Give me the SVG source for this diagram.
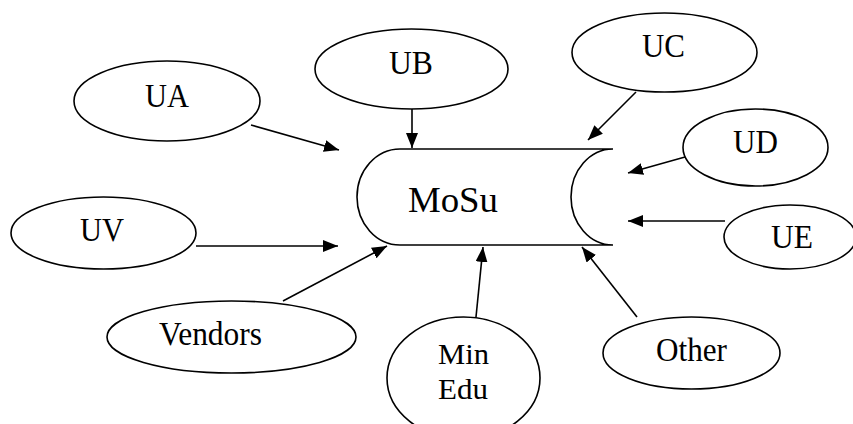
<svg xmlns="http://www.w3.org/2000/svg" width="853" height="424" viewBox="0 0 853 424">
  <style>
    .node { fill: #ffffff; stroke: #000000; stroke-width: 1.6; }
    .label { font-family: "Liberation Serif", "Times New Roman", serif; font-size: 34px; fill: #000000; text-anchor: middle; }
    .big { font-size: 35px; }
    .small { font-size: 30px; }
    .edge { stroke: #000000; stroke-width: 1.6; fill: none; marker-end: url(#arrow); }
  </style>
  <defs>
    <marker id="arrow" markerUnits="userSpaceOnUse" markerWidth="16" markerHeight="12" viewBox="0 0 16 12" refX="15" refY="6" orient="auto">
      <path d="M0,0 L15,6 L0,12 Z" fill="#000000"/>
    </marker>
  </defs>
  <rect width="853" height="424" fill="#ffffff"/>

  <!-- connectors -->
  <g id="edges">
    <line class="edge" x1="251" y1="125" x2="339" y2="150"/>
    <line class="edge" x1="412" y1="109" x2="412" y2="148"/>
    <line class="edge" x1="636" y1="92" x2="588" y2="140"/>
    <line class="edge" x1="685" y1="157" x2="628" y2="173"/>
    <line class="edge" x1="725" y1="221" x2="628" y2="221"/>
    <line class="edge" x1="196" y1="246" x2="338" y2="246"/>
    <line class="edge" x1="283" y1="301" x2="387" y2="246"/>
    <line class="edge" x1="476" y1="317" x2="483" y2="247"/>
    <line class="edge" x1="637" y1="317" x2="582" y2="247"/>
  </g>

  <!-- central store -->
  <g id="mosu">
    <path class="node" d="M400,149 H613 A42,48 0 0 0 613,245 H400 A43,48 0 0 1 400,149 Z"/>
    <text class="label big" x="453" y="212" textLength="90" lengthAdjust="spacingAndGlyphs">MoSu</text>
  </g>

  <g id="ua">
    <ellipse class="node" cx="167" cy="101" rx="93" ry="40"/>
    <text class="label" x="167" y="107" textLength="44" lengthAdjust="spacingAndGlyphs">UA</text>
  </g>
  <g id="ub">
    <ellipse class="node" cx="411.5" cy="69" rx="96.5" ry="40"/>
    <text class="label" x="411" y="74" textLength="44" lengthAdjust="spacingAndGlyphs">UB</text>
  </g>
  <g id="uc">
    <ellipse class="node" cx="664.5" cy="52.5" rx="92.5" ry="39.5"/>
    <text class="label" x="663.5" y="57" textLength="43" lengthAdjust="spacingAndGlyphs">UC</text>
  </g>
  <g id="ud">
    <ellipse class="node" cx="755.5" cy="147.5" rx="72.5" ry="38.5"/>
    <text class="label" x="755.5" y="153" textLength="45" lengthAdjust="spacingAndGlyphs">UD</text>
  </g>
  <g id="ue">
    <ellipse class="node" cx="790" cy="237" rx="66" ry="32"/>
    <text class="label" x="792" y="248" textLength="42" lengthAdjust="spacingAndGlyphs">UE</text>
  </g>
  <g id="uv">
    <ellipse class="node" cx="103.5" cy="233" rx="92.5" ry="36"/>
    <text class="label" x="102" y="241" textLength="44" lengthAdjust="spacingAndGlyphs">UV</text>
  </g>
  <g id="vendors">
    <ellipse class="node" cx="231.5" cy="337" rx="124.5" ry="36"/>
    <text class="label" x="210.5" y="345" textLength="103" lengthAdjust="spacingAndGlyphs">Vendors</text>
  </g>
  <g id="minedu">
    <ellipse class="node" cx="463.5" cy="378" rx="76.5" ry="61"/>
    <text class="label small" x="463.5" y="364" textLength="51" lengthAdjust="spacingAndGlyphs">Min</text>
    <text class="label small" x="463" y="399" textLength="50" lengthAdjust="spacingAndGlyphs">Edu</text>
  </g>
  <g id="other">
    <ellipse class="node" cx="691.5" cy="353" rx="88.5" ry="36"/>
    <text class="label" x="691.5" y="361" textLength="71" lengthAdjust="spacingAndGlyphs">Other</text>
  </g>
</svg>
